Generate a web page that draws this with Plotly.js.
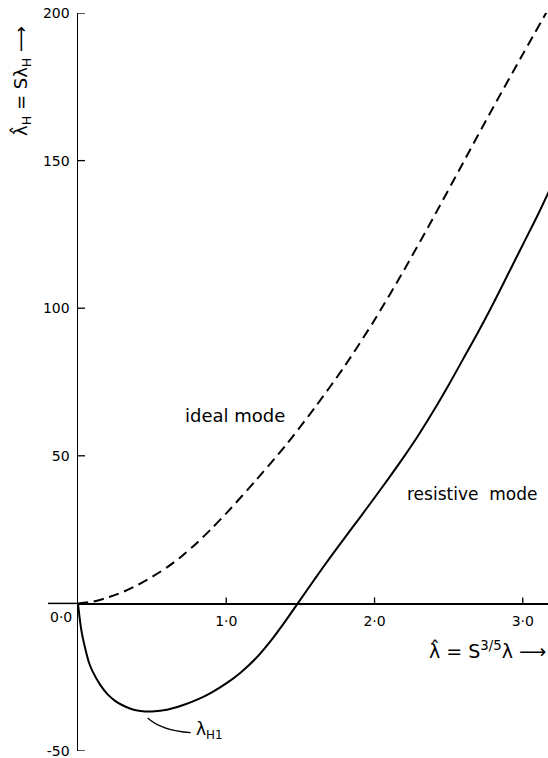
<!DOCTYPE html>
<html>
<head>
<meta charset="utf-8">
<script src="https://cdn.plot.ly/plotly-3.0.1.min.js"></script>
<style>html,body{margin:0;padding:0;background:#fff;}#chart{width:548px;height:758px;}</style>
</head>
<body>
<div id="chart"></div>
<script>
// ideal mode (dashed)
const idealX = [0, 0.1, 0.2, 0.3, 0.4, 0.5, 0.6, 0.7, 0.8, 0.9, 1.0, 1.2, 1.4, 1.6, 1.8, 2.0, 2.2, 2.4, 2.6, 2.8, 3.0, 3.18];
const idealY = [0, 0.6, 2.0, 3.8, 6.2, 9.0, 12.2, 16, 20.4, 25.3, 30.5, 41.7, 53.5, 66.5, 80.5, 96, 113, 131, 149.5, 168, 186, 202];
// resistive mode (solid)
const resX = [0, 0.01, 0.025, 0.05, 0.075, 0.1, 0.15, 0.2, 0.25, 0.3, 0.35, 0.4, 0.45, 0.5, 0.6, 0.7, 0.8, 0.9, 1.0, 1.1, 1.2, 1.3, 1.4, 1.5, 1.6, 1.7, 1.8, 1.9, 2.0, 2.1, 2.2, 2.3, 2.4, 2.5, 2.6, 2.7, 2.8, 2.9, 3.0, 3.1, 3.18];
const resY = [0, -4.5, -9.8, -15.5, -20.2, -23.2, -27.6, -30.8, -33, -34.5, -35.6, -36.3, -36.6, -36.6, -36, -34.6, -32.7, -30.2, -27.1, -23.3, -18.6, -12.7, -5.9, 1.3, 8.5, 15.5, 22.3, 29, 35.8, 42.7, 49.8, 57.3, 65.4, 74, 83, 92, 101.5, 111.5, 121.5, 131.5, 140];
// ticks
const xTickVals = [1, 2, 3];
const xTickText = ['1·0', '2·0', '3·0'];
const yTickVals = [-50, 50, 100, 150, 200];
const yTickText = ['-50', '50', '100', '150', '200'];
// labels
const idealLabel = 'ideal mode';
const resLabel = 'resistive\u00a0 mode';
const minLabel = 'λ<sub>H1</sub>';
const xTitle = 'λ̂ = S<sup>3/5</sup>λ ⟶';
const yTitle = 'λ̂<sub>H</sub> = Sλ<sub>H</sub> ⟶';
const originLabel = '0·0';

const FONT = 'DejaVu Sans';
const XRANGE = [0, 3.17];
const YRANGE = [-50, 200];
const Y0FRAC = (0 - YRANGE[0]) / (YRANGE[1] - YRANGE[0]);
const W = 548, H = 758, ML = 78, MR = 0, MT = 13, MB = 7;
const PW = W - ML - MR, PH = H - MT - MB;
const TICKLEN = 7;

const traces = [
  {x: idealX, y: idealY, mode: 'lines', line: {color: '#000', width: 2, dash: '10px,6px', shape: 'spline', smoothing: 0.8}, hoverinfo: 'skip'},
  {x: resX, y: resY, mode: 'lines', line: {color: '#000', width: 2, shape: 'spline', smoothing: 0.8}, hoverinfo: 'skip'}
];

// inside tick marks built from the tick arrays
const tickShapes = [];
yTickVals.forEach(v => tickShapes.push({type: 'line', xref: 'paper', yref: 'y', x0: 0, x1: TICKLEN / PW, y0: v, y1: v, line: {color: '#000', width: 1.3}}));
xTickVals.forEach(v => tickShapes.push({type: 'line', xref: 'x', yref: 'paper', x0: v, x1: v, y0: Y0FRAC, y1: Y0FRAC + (TICKLEN - 1) / PH, line: {color: '#000', width: 1.3}}));

const layout = {
  width: W, height: H,
  margin: {l: ML, r: MR, t: MT, b: MB, pad: 0},
  paper_bgcolor: '#fff', plot_bgcolor: 'rgba(0,0,0,0)',
  showlegend: false,
  font: {family: FONT, color: '#000', size: 14},
  xaxis: {
    range: XRANGE, anchor: 'free', position: Y0FRAC,
    showline: true, linecolor: '#000', linewidth: 1.5,
    showgrid: false, zeroline: false,
    ticks: '', ticklabelstandoff: 4,
    tickmode: 'array', tickvals: xTickVals, ticktext: xTickText,
    tickfont: {family: FONT, size: 14}
  },
  yaxis: {
    range: YRANGE,
    showline: true, linecolor: '#000', linewidth: 1.5,
    showgrid: false, zeroline: false,
    ticks: '', ticklabelstandoff: 4,
    tickmode: 'array', tickvals: yTickVals, ticktext: yTickText,
    tickfont: {family: FONT, size: 14},
    ticklabeloverflow: 'allow'
  },
  shapes: [
    {type: 'line', xref: 'paper', yref: 'paper', x0: -0.064, x1: 0, y0: Y0FRAC, y1: Y0FRAC, line: {color: '#000', width: 1.5}},
    {type: 'path', xref: 'x', yref: 'y', path: 'M 0.47,-38.8 Q 0.56,-43 0.76,-43.8', line: {color: '#000', width: 1.3}}
  ].concat(tickShapes),
  annotations: [
    {x: 1.061, y: 63.5, xref: 'x', yref: 'y', xanchor: 'center', yanchor: 'middle', text: idealLabel, showarrow: false, font: {family: FONT, size: 18}},
    {x: 2.66, y: 37.2, xref: 'x', yref: 'y', xanchor: 'center', yanchor: 'middle', text: resLabel, showarrow: false, font: {family: FONT, size: 17}},
    {x: 0.78, y: -43.2, xref: 'x', yref: 'y', xanchor: 'left', yanchor: 'middle', text: minLabel, showarrow: false, font: {family: FONT, size: 17}},
    {x: 0.455, y: -37.6, xref: 'x', yref: 'y', ax: 0.48, ay: -39, axref: 'x', ayref: 'y', text: ' ', showarrow: true, arrowhead: 2, arrowsize: 1.2, arrowwidth: 1.3, arrowcolor: '#000', standoff: 0},
    {x: -0.036, y: -4.6, xref: 'paper', yref: 'y', xanchor: 'center', yanchor: 'middle', text: originLabel, showarrow: false, font: {family: FONT, size: 14}},
    {x: 1, y: -15.9, xref: 'paper', yref: 'y', xanchor: 'right', yanchor: 'middle', text: xTitle, showarrow: false, font: {family: FONT, size: 19}},
    {x: -0.119, y: 0.908, xref: 'paper', yref: 'paper', xanchor: 'center', yanchor: 'middle', text: yTitle, textangle: -90, showarrow: false, font: {family: FONT, size: 18}}
  ]
};

Plotly.newPlot('chart', traces, layout, {staticPlot: true, displayModeBar: false});
</script>
</body>
</html>
